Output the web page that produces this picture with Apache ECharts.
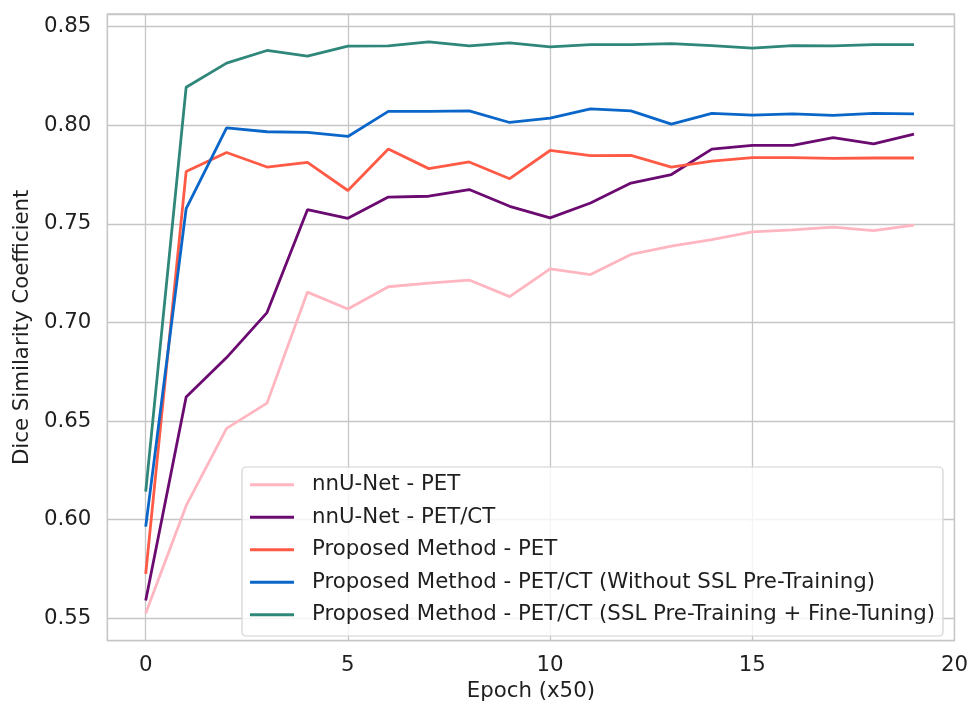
<!DOCTYPE html>
<html>
<head>
<meta charset="utf-8">
<script src="https://cdn.jsdelivr.net/npm/echarts@6/dist/echarts.min.js"></script>
<style>
html,body{margin:0;padding:0;background:#fff;}
#chart{width:971px;height:707px;}
</style>
</head>
<body>
<div id="chart"></div>
<script>
const epochs = [0,1,2,3,4,5,6,7,8,9,10,11,12,13,14,15,16,17,18,19];
const seriesNames = [
  'nnU-Net - PET',
  'nnU-Net - PET/CT',
  'Proposed Method - PET',
  'Proposed Method - PET/CT (Without SSL Pre-Training)',
  'Proposed Method - PET/CT (SSL Pre-Training + Fine-Tuning)'
];
const nnunetPET = [0.5526,0.6071,0.6463,0.6591,0.7154,0.7068,0.7181,0.7199,0.7215,0.7131,0.7272,0.7243,0.7345,0.7387,0.7420,0.7459,0.7469,0.7483,0.7466,0.7493];
const nnunetPETCT = [0.5590,0.6622,0.6822,0.7050,0.7572,0.7528,0.7636,0.7640,0.7674,0.7589,0.7530,0.7606,0.7707,0.7750,0.7879,0.7898,0.7898,0.7937,0.7905,0.7955];
const proposedPET = [0.5725,0.7765,0.7862,0.7788,0.7812,0.7669,0.7879,0.7780,0.7814,0.7729,0.7872,0.7846,0.7847,0.7788,0.7818,0.7836,0.7836,0.7832,0.7834,0.7834];
const proposedNoSSL = [0.5965,0.7577,0.7987,0.7967,0.7964,0.7943,0.8070,0.8070,0.8073,0.8014,0.8036,0.8083,0.8073,0.8006,0.8060,0.8051,0.8058,0.8050,0.8060,0.8058];
const proposedSSL = [0.6142,0.8193,0.8315,0.8379,0.8350,0.8401,0.8402,0.8423,0.8402,0.8418,0.8397,0.8409,0.8409,0.8414,0.8404,0.8391,0.8404,0.8402,0.8409,0.8409];
const colors = ['#FFB6C1','#6B0A70','#FF5A45','#0A66C8','#2F877A'];
const allData = [nnunetPET, nnunetPETCT, proposedPET, proposedNoSSL, proposedSSL];

const FONT = 'DejaVu Sans';
const TXT = '#1f1f1f';
const GRIDC = '#c6c6c6';
const FS = 21.3;

const chart = echarts.init(document.getElementById('chart'), null, {renderer:'canvas'});
chart.setOption({
  animation:false,
  backgroundColor:'#ffffff',
  textStyle:{fontFamily:FONT},
  grid:{left:107.3, right:13.7, top:14, bottom:65.3, show:true, borderColor:GRIDC, borderWidth:1.3, containLabel:false},
  xAxis:{
    type:'value', min:-0.95, max:20,
    name:'Epoch (x50)', nameLocation:'middle', nameGap:37,
    nameTextStyle:{fontFamily:FONT, fontSize:FS, color:TXT},
    axisLine:{show:false}, axisTick:{show:false},
    axisLabel:{fontFamily:FONT, fontSize:FS, color:TXT, margin:14.5, showMinLabel:false},
    splitLine:{show:true, lineStyle:{color:GRIDC, width:1.3}}
  },
  yAxis:{
    type:'value', min:0.5387, max:0.8564,
    name:'Dice Similarity Coefficient', nameLocation:'middle', nameGap:70,
    nameTextStyle:{fontFamily:FONT, fontSize:FS, color:TXT},
    axisLine:{show:false}, axisTick:{show:false},
    axisLabel:{fontFamily:FONT, fontSize:FS, color:TXT, margin:16, showMinLabel:false, showMaxLabel:false,
      formatter:v=>v.toFixed(2)},
    splitLine:{show:true, lineStyle:{color:GRIDC, width:1.3}}
  },
  legend:{
    orient:'vertical', left:242, top:467,
    padding:[7.3,8,10.7,8],
    itemWidth:44, itemHeight:3, itemGap:11.5,
    icon:'rect',
    backgroundColor:'rgba(255,255,255,0.8)',
    borderColor:'#d2d2d2', borderWidth:1.2, borderRadius:4,
    textStyle:{fontFamily:FONT, fontSize:FS, color:TXT, lineHeight:20, padding:[0,0,0,13]},
    data:seriesNames
  },
  series: allData.map((d,i)=>({
    name:seriesNames[i], type:'line', symbol:'none', smooth:false,
    data: epochs.map((e,j)=>[e, d[j]]),
    lineStyle:{color:colors[i], width:2.8},
    itemStyle:{color:colors[i]},
    z:2+i
  }))
});
</script>
</body>
</html>
